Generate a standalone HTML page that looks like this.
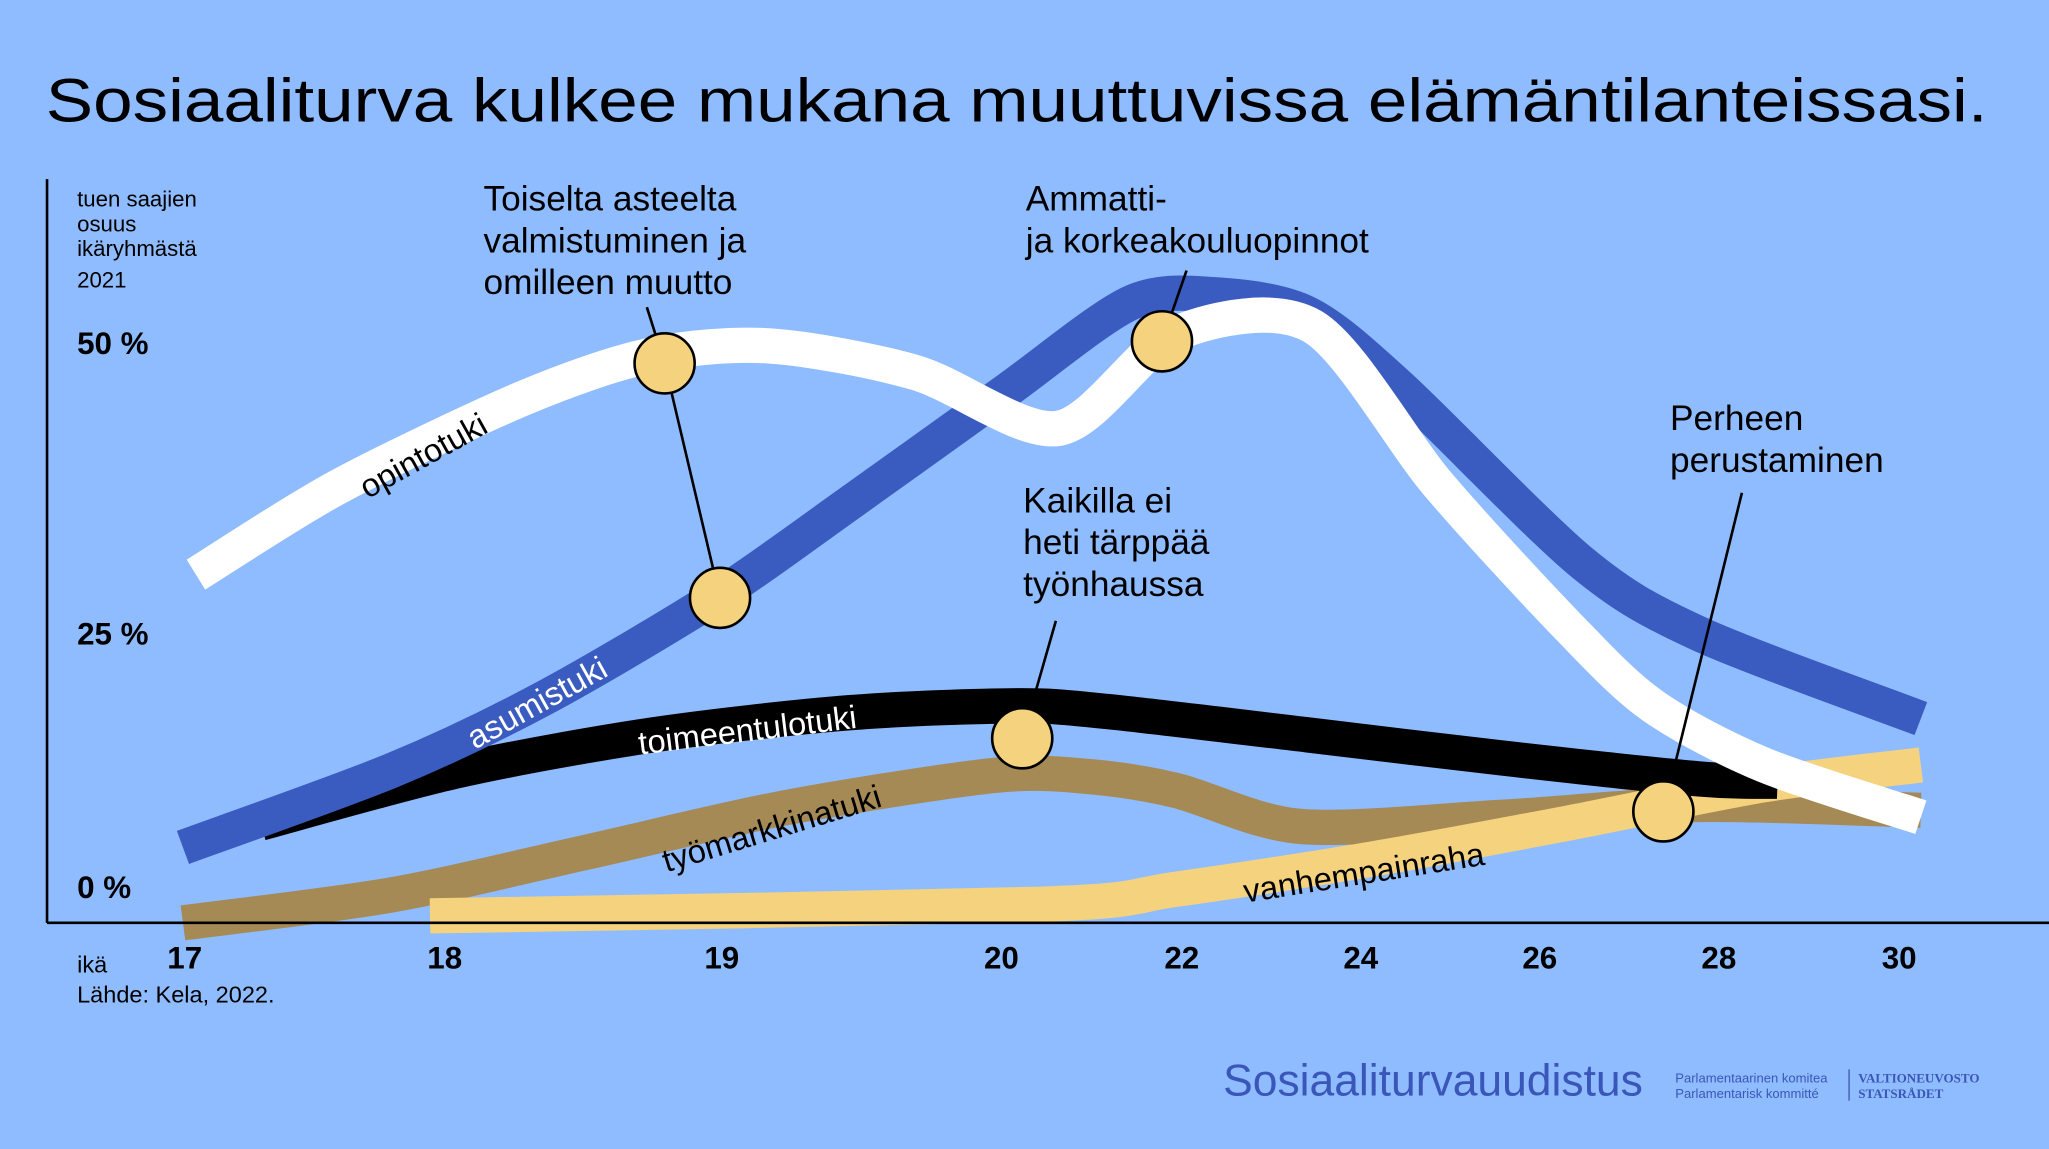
<!DOCTYPE html>
<html><head><meta charset="utf-8"><style>
html,body{margin:0;padding:0;background:#8fbcfe;}
svg{display:block;font-family:"Liberation Sans",sans-serif;}
</style></head><body>
<svg id="chart" width="2049" height="1149" viewBox="0 0 1568 879" preserveAspectRatio="none" xmlns="http://www.w3.org/2000/svg">
<rect width="1568" height="879" fill="#8fbcfe"/>
<text x="35" y="93" font-size="47" fill="#000" textLength="1486" lengthAdjust="spacingAndGlyphs">Sosiaaliturva kulkee mukana muuttuvissa elämäntilanteissasi.</text>
<g id="series"></g>
<g id="overlay"></g>
<line x1="36" y1="137" x2="36" y2="706" stroke="#000" stroke-width="2"/>
<line x1="36" y1="706" x2="1568" y2="706" stroke="#000" stroke-width="2"/>
<g font-size="17">
<text x="59" y="158">tuen saajien</text><text x="59" y="177">osuus</text><text x="59" y="196">ikäryhmästä</text><text x="59" y="220">2021</text>
</g>
<g id="yticks" font-size="24" font-weight="bold"></g>
<g id="xticks" font-size="24" font-weight="bold"></g>
<text x="59" y="744" font-size="18">ikä</text>
<text x="59" y="767" font-size="18">Lähde: Kela, 2022.</text>
<g font-size="27">
<text x="370" y="161">Toiselta asteelta</text><text x="370" y="193">valmistuminen ja</text><text x="370" y="225">omilleen muutto</text>
<text x="785" y="161">Ammatti-</text><text x="785" y="193">ja korkeakouluopinnot</text>
<text x="783" y="392">Kaikilla ei</text><text x="783" y="424">heti tärppää</text><text x="783" y="456">työnhaussa</text>
<text x="1278" y="329">Perheen</text><text x="1278" y="361">perustaminen</text>
</g>
<text x="936" y="838" font-size="34" fill="#3a56b8">Sosiaaliturvauudistus</text>
<text x="1282" y="828" font-size="10" fill="#3a56b8">Parlamentaarinen komitea</text>
<text x="1282" y="840" font-size="10" fill="#3a56b8">Parlamentarisk kommitté</text>
<line x1="1415" y1="818" x2="1415" y2="842" stroke="#3a56b8" stroke-width="1"/>
<text x="1422" y="828" font-size="10" font-family="Liberation Serif,serif" font-weight="bold" fill="#3a56b8">VALTIONEUVOSTO</text>
<text x="1422" y="840" font-size="10" font-family="Liberation Serif,serif" font-weight="bold" fill="#3a56b8">STATSRÅDET</text>
</svg>
<script>
const ages = [17,18,19,20,22,24,26,28,30];
const yTickValues = [0,25,50];
const yTickLabels = ["0 %","25 %","50 %"];
const asumAge = [17,17.8,18.36,18.98,19.46,20.05,21.45,22.4,23.42,24.44,26.48,27.8,30.26];
const asumVal = [6.5,13.1,19.3,28.0,36.1,45.7,53.4,54.1,52.5,46.3,31.1,24.9,17.6];
const opinAge = [17.05,17.6,18.29,18.75,19.18,19.7,20.65,21.96,23.48,24.88,26.34,27.28,28.52,30.26];
const opinVal = [30.0,37.6,45.2,48.9,49.7,47.4,42.6,50.8,51.4,37.8,25.5,18.7,13.6,9.1];
const toimAge = [17.3,18.05,18.76,19.46,20.2,21.2,23.42,25.6,27.8,28.67];
const toimVal = [8.6,13.1,16.2,18.1,18.7,18.2,16.2,14.2,12.4,12.2];
const tyomAge = [17,17.8,18.52,19.23,19.98,21.0,21.96,23.35,25.6,27.8,30.26];
const tyomVal = [0,2.4,6.1,9.9,12.7,12.6,11.4,8.3,9.1,10.2,9.7];
const vanhAge = [17.95,20.46,21.96,24.15,26.34,28.52,30.26];
const vanhVal = [0.6,1.6,2.9,5.5,8.6,11.9,13.6];
const markerAge = [18.8,19.0,21.8,20.25,27.4];
const markerVal = [48.2,28.0,50.1,15.9,9.6];

const NS="http://www.w3.org/2000/svg";
const breakX=[140,339,551,765,903,1040,1177,1314,1452];
function xs(a){
  if(a<=ages[0]) return breakX[0]+(a-ages[0])*(breakX[1]-breakX[0]);
  for(let i=1;i<ages.length;i++){ if(a<=ages[i]){const t=(a-ages[i-1])/(ages[i]-ages[i-1]);return breakX[i-1]+t*(breakX[i]-breakX[i-1]);} }
  const n=ages.length-1; return breakX[n]+(a-ages[n])*(breakX[n]-breakX[n-1])/(ages[n]-ages[n-1]);
}
function ys(v){return 706-v*8.88;}
function smooth(pts){
  let d="M"+pts[0][0]+","+pts[0][1];
  for(let i=0;i<pts.length-1;i++){
    const p0=pts[i-1]||pts[i],p1=pts[i],p2=pts[i+1],p3=pts[i+2]||p2;
    const c1=[p1[0]+(p2[0]-p0[0])/7,p1[1]+(p2[1]-p0[1])/7];
    const c2=[p2[0]-(p3[0]-p1[0])/7,p2[1]-(p3[1]-p1[1])/7];
    d+=" C"+c1+" "+c2+" "+p2;
  }
  return d;
}
const sg=document.getElementById('series');
function band(ag,vals,color,name){
  const p=document.createElementNS(NS,'path');
  p.setAttribute('d',smooth(ag.map((a,i)=>[xs(a),ys(vals[i])])));
  p.setAttribute('fill','none');p.setAttribute('stroke',color);p.setAttribute('stroke-width','27');
  
  
  sg.appendChild(p);
}
band(tyomAge,tyomVal,'#a68a55','tyomarkkinatuki-band');
band(vanhAge,vanhVal,'#f5d27e','vanhempainraha-band');
band(toimAge,toimVal,'#000000','toimeentulotuki-band');
band(asumAge,asumVal,'#3a5bbf','asumistuki-band');
band(opinAge,opinVal,'#ffffff','opintotuki-band');
function lbl(txt,x,y,rot,col,name){
  const t=document.createElementNS(NS,'text');
  t.setAttribute('x',x);t.setAttribute('y',y);t.setAttribute('font-size','25');t.setAttribute('fill',col);
  t.setAttribute('text-anchor','middle');t.setAttribute('transform','rotate('+rot+' '+x+' '+y+')');
  t.textContent=txt;
  
  
  sg.appendChild(t);
}
lbl('opintotuki',328,356,-29,'#000','opintotuki-label');
lbl('asumistuki',415,545,-29,'#fff','asumistuki-label');
lbl('toimeentulotuki',573,567,-7,'#fff','toimeentulotuki-label');
lbl('työmarkkinatuki',593,642,-17,'#000','tyomarkkinatuki-label');
lbl('vanhempainraha',1045,676,-9,'#000','vanhempainraha-label');

const og=document.getElementById('overlay');
function line(x1,y1,x2,y2,name){
  const l=document.createElementNS(NS,'line');
  l.setAttribute('x1',x1);l.setAttribute('y1',y1);l.setAttribute('x2',x2);l.setAttribute('y2',y2);
  l.setAttribute('stroke','#000');l.setAttribute('stroke-width','2');
  
  
  og.appendChild(l);
}
const mx=markerAge.map(a=>xs(a)), my=markerVal.map(v=>ys(v));
line(495,235,mx[0],my[0],'leader-line-1');
line(mx[0],my[0],mx[1],my[1],'leader-line-1b');
line(908,207,mx[2],my[2],'leader-line-2');
line(808,475,mx[3],my[3],'leader-line-3');
line(1333,377,mx[4],my[4],'leader-line-4');
markerAge.forEach((a,i)=>{
  const c=document.createElementNS(NS,'circle');
  c.setAttribute('cx',mx[i]);c.setAttribute('cy',my[i]);c.setAttribute('r','23');
  c.setAttribute('fill','#f5d27e');c.setAttribute('stroke','#000');c.setAttribute('stroke-width','2');
  
  
  og.appendChild(c);
});
const yt=document.getElementById('yticks');
const yLabelPos=[678,484,262];
yTickValues.forEach((v,i)=>{
  const t=document.createElementNS(NS,'text');
  t.setAttribute('x',59);t.setAttribute('y',yLabelPos[i]+9);
  t.textContent=yTickLabels[i];
  
  
  yt.appendChild(t);
});
const xt=document.getElementById('xticks');
ages.forEach(a=>{
  const t=document.createElementNS(NS,'text');
  t.setAttribute('x',xs(a)-12);t.setAttribute('y',741);
  t.textContent=a;
  
  
  xt.appendChild(t);
});
</script>
</body></html>
